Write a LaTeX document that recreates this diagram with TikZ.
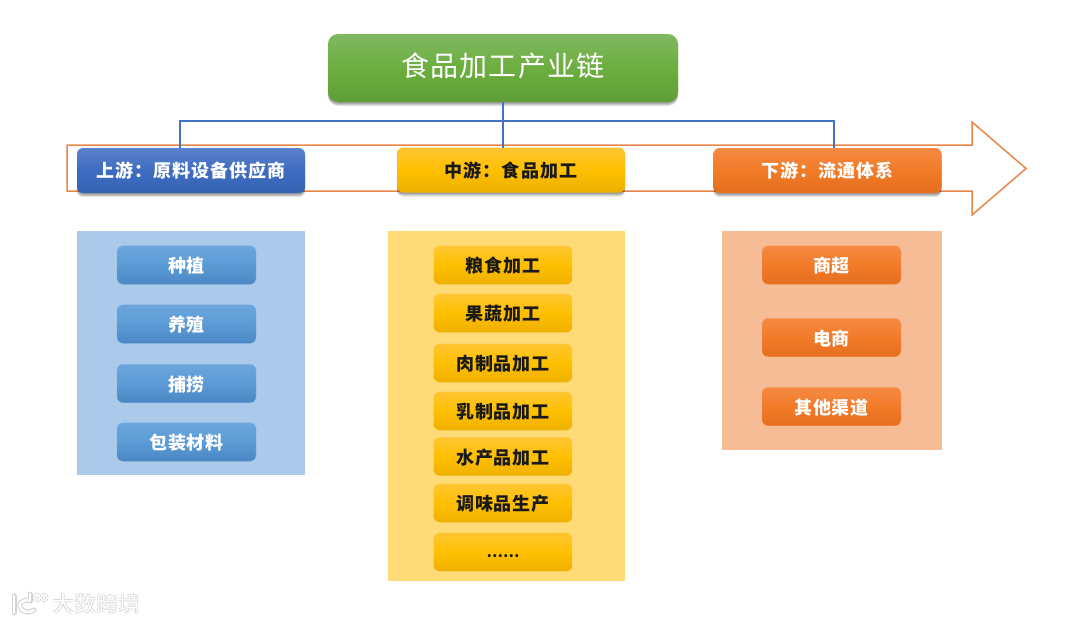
\documentclass[tikz,border=0pt]{standalone}
\usepackage{fontspec}
\newfontfamily\cjk[LetterSpace=4]{Noto Sans CJK SC}
\newfontfamily\cjkmain[LetterSpace=6]{Noto Sans CJK SC}
\newfontfamily\cjktitle[LetterSpace=4]{Noto Sans CJK SC}
\newfontfamily\cjkplain{Noto Sans CJK SC}
\definecolor{gA}{HTML}{7FB962}\definecolor{gB}{HTML}{6CAE3F}\definecolor{gC}{HTML}{5F9E35}
\definecolor{bA}{HTML}{5B82CE}\definecolor{bB}{HTML}{3F6CBF}\definecolor{bC}{HTML}{3563B4}
\definecolor{yA}{HTML}{FFC533}\definecolor{yB}{HTML}{FFC000}\definecolor{yC}{HTML}{EDB000}
\definecolor{oA}{HTML}{F58A45}\definecolor{oB}{HTML}{F27B28}\definecolor{oC}{HTML}{E46E1E}
\definecolor{lA}{HTML}{6CA6DD}\definecolor{lB}{HTML}{5B9BD5}\definecolor{lC}{HTML}{4A87C4}
\definecolor{arrowc}{HTML}{E8874A}
\definecolor{linkc}{HTML}{4472C4}
\definecolor{panelb}{HTML}{ABCAE9}\definecolor{panely}{HTML}{FFDB77}\definecolor{panelo}{HTML}{F5BC95}
\definecolor{wm}{HTML}{D4D4D4}
\tikzset{
  box/.style={rounded corners=#1,inner sep=0pt,outer sep=0pt,anchor=center},
  gshade/.style n args={3}{top color=#1,bottom color=#3,middle color=#2},
  softshadow/.style={
    preaction={fill=black,fill opacity=.10,transform canvas={yshift=-4pt}},
    preaction={fill=black,fill opacity=.14,transform canvas={yshift=-3pt}},
    preaction={fill=black,fill opacity=.20,transform canvas={yshift=-1.5pt}}},
  mainbox/.style={box=6pt,minimum width=228pt,minimum height=45pt,softshadow,
    text height=16pt,text depth=2pt,
    font=\cjkmain\bfseries\fontsize{18}{20}\selectfont},
  subbox/.style={box=6pt,minimum width=139pt,minimum height=38.5pt,
    text height=17pt,text depth=2pt,
    font=\cjk\bfseries\fontsize{18}{20}\selectfont},
  bluesub/.style={subbox,draw=lB!80!white,line width=.4pt,gshade={lA}{lB}{lC},text=white},
  yellowsub/.style={subbox,draw=yA!80!white,line width=.4pt,gshade={yA}{yB}{yC},text=black!90},
  orangesub/.style={subbox,draw=oA!80!white,line width=.4pt,gshade={oA}{oB}{oC},text=white},
  panel/.style={inner sep=0pt,outer sep=0pt,anchor=north west},
  link/.style={draw=linkc,line width=1.1pt},
}
\begin{document}
\begin{tikzpicture}[x=1pt,y=-1pt]
\useasboundingbox (0,0) rectangle (1079,624);
% flow arrow
\draw[arrowc,line width=1.5pt,fill=white,miter limit=10]
  (67,145) -- (972,145) -- (972,122) -- (1026,168.5) -- (972,215) -- (972,191) -- (67,191) -- cycle;
% panels
\node[panel,fill=panelb,minimum width=228pt,minimum height=244pt] (pb) at (77,231) {};
\node[panel,fill=panely,minimum width=237pt,minimum height=350pt] (py) at (388,231) {};
\node[panel,fill=panelo,minimum width=220pt,minimum height=219pt] (po) at (722,231) {};
% connector anchors
\coordinate (busL) at (180,121);
\coordinate (busR) at (834,121);
\node[box=10pt,minimum width=350pt,minimum height=68pt,gshade={gA}{gB}{gC},text=white,softshadow,
  text height=20pt,text depth=3pt,
  font=\cjktitle\fontsize{28}{30}\selectfont] (title) at (503,68) {食品加工产业链};
% main boxes
\node[mainbox,gshade={bA}{bB}{bC},text=white] (up) at (191,170.5) {上游：原料设备供应商};
\node[mainbox,gshade={yA}{yB}{yC},text=black!90] (mid) at (511,170) {中游：食品加工};
\node[mainbox,gshade={oA}{oB}{oC},text=white] (down) at (827.5,170.5) {下游：流通体系};
% connectors
\draw[link] (title.south) -- (title.south |- mid.north);
\draw[link] (up.north -| busL) -- (busL) -- (busR) -- (busR |- down.north);
% upstream items
\node[bluesub] (u1) at (186.5,265) {种植};
\node[bluesub] (u2) at (186.5,324) {养殖};
\node[bluesub] (u3) at (186.5,383.5) {捕捞};
\node[bluesub] (u4) at (186.5,442) {包装材料};
% midstream items
\node[yellowsub] (m1) at (503,265) {粮食加工};
\node[yellowsub] (m2) at (503,313) {果蔬加工};
\node[yellowsub] (m3) at (503,363) {肉制品加工};
\node[yellowsub] (m4) at (503,411) {乳制品加工};
\node[yellowsub] (m5) at (503,456.5) {水产品加工};
\node[yellowsub] (m6) at (503,503) {调味品生产};
\node[yellowsub,text height=12pt,text depth=2pt,font=\cjkplain\bfseries\fontsize{14.5}{18}\selectfont] (m7) at (503,552) {……};
% downstream items
\node[orangesub] (d1) at (831.5,265) {商超};
\node[orangesub] (d2) at (831.5,337.5) {电商};
\node[orangesub] (d3) at (831.5,406.5) {其他渠道};
% watermark
\begin{scope}[line cap=round,line join=round]
 \foreach \w/\c in {5/wm,2.6/white}{
  \draw[\c,line width=\w pt] (14,596) -- (14,613);
  \draw[\c,line width=\w pt] (28,600) .. controls (20,601) and (19,604) .. (20,607) .. controls (22,612) and (29,614) .. (34,610);
  \draw[\c,line width=\w pt] (30,594) -- (30,601);
  \draw[\c,line width=\w*.6 pt] (37,597.5) circle (3);
  \draw[\c,line width=\w*.6 pt] (44,597.5) circle (3);
 }
\end{scope}
\node[inner sep=0pt,text=wm,font=\cjkplain\bfseries\fontsize{22}{24}\selectfont] (wmA) at (96,604.5) {大数跨境};
\node[inner sep=0pt,text=white,font=\cjkplain\fontsize{22}{24}\selectfont] (wmB) at (96,604.5) {大数跨境};
\end{tikzpicture}
\end{document}
